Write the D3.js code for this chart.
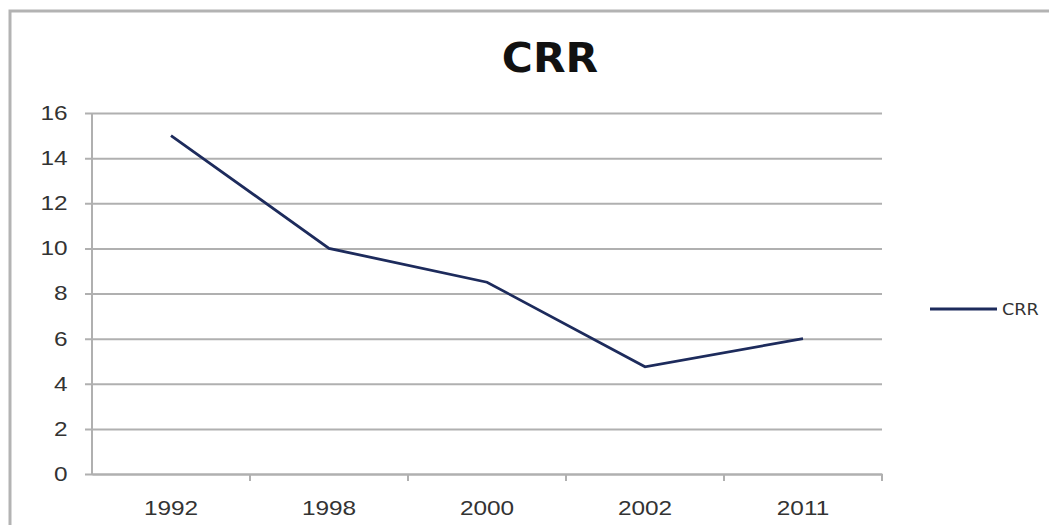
<!DOCTYPE html>
<html>
<head>
<meta charset="utf-8">
<script src="https://cdn.jsdelivr.net/npm/d3@7"></script>
<style>
  body { margin: 0; background: #fff; }
  svg { display: block; font-family: "DejaVu Sans", Verdana, sans-serif; }
</style>
</head>
<body>
<div id="chart"></div>
<script>
// data
const years = ["1992", "1998", "2000", "2002", "2011"];
const crr = [15, 10, 8.5, 4.75, 6];
const yTicks = [0, 2, 4, 6, 8, 10, 12, 14, 16];

const W = 1049, H = 525;
const margin = {top: 113, right: 167, bottom: 51, left: 92};
const width = W - margin.left - margin.right,
      height = H - margin.top - margin.bottom;
const stretch = "scale(1.22,1)"; // the source image is wide-stretched

const svg = d3.select("#chart").append("svg")
    .attr("width", W)
    .attr("height", H);

// outer chart border
svg.append("rect")
    .attr("x", 10).attr("y", 11)
    .attr("width", 1100).attr("height", 600)
    .attr("fill", "none")
    .attr("stroke", "#b3b3b3")
    .attr("stroke-width", 3);

svg.append("text")
    .attr("transform", "translate(550,72) scale(1.06,1)")
    .attr("text-anchor", "middle")
    .attr("font-size", 40)
    .attr("font-weight", "bold")
    .attr("fill", "#111")
    .text("CRR");

const g = svg.append("g")
    .attr("transform", "translate(" + margin.left + "," + margin.top + ")");

const x = d3.scaleBand().domain(years).range([0, width]);
const y = d3.scaleLinear().domain([0, 16]).range([height, 0]);

// gridlines + y axis
const yAxis = g.append("g")
    .call(d3.axisLeft(y).tickValues(yTicks).tickSize(-width).tickPadding(20));
yAxis.select(".domain").remove();
yAxis.selectAll(".tick line")
    .attr("x1", -7)
    .attr("stroke", "#b0b0b0")
    .attr("stroke-width", 2);
yAxis.selectAll("text")
    .attr("font-size", 20)
    .attr("fill", "#333")
    .attr("transform", stretch);

g.append("line")
    .attr("x1", 0).attr("x2", 0)
    .attr("y1", 0).attr("y2", height)
    .attr("stroke", "#b0b0b0")
    .attr("stroke-width", 2);

// x axis with ticks at category boundaries
const xAxis = g.append("g")
    .attr("transform", "translate(0," + height + ")")
    .call(d3.axisBottom(x).tickSize(0).tickPadding(27));
xAxis.select(".domain")
    .attr("stroke", "#b0b0b0")
    .attr("stroke-width", 2);
xAxis.selectAll("text")
    .attr("font-size", 20)
    .attr("fill", "#333")
    .attr("transform", stretch);
xAxis.selectAll(".bound")
    .data(years)
    .enter().append("line")
    .attr("x1", d => x(d) + x.bandwidth())
    .attr("x2", d => x(d) + x.bandwidth())
    .attr("y1", 0).attr("y2", 7)
    .attr("stroke", "#b0b0b0")
    .attr("stroke-width", 2);

// series line
const pts = years.map((yr, i) => ({yr: yr, v: crr[i]}));
g.append("path")
    .datum(pts)
    .attr("fill", "none")
    .attr("stroke", "#1d2b5c")
    .attr("stroke-width", 2.8)
    .attr("d", d3.line()
        .x(d => x(d.yr) + x.bandwidth() / 2)
        .y(d => y(d.v)));

// legend
const lg = svg.append("g").attr("transform", "translate(930,309)");
lg.append("line")
    .attr("x1", 0).attr("x2", 67)
    .attr("stroke", "#1d2b5c")
    .attr("stroke-width", 3);
lg.append("text")
    .attr("transform", "translate(72,6) scale(1.1,1)")
    .attr("font-size", 16)
    .attr("fill", "#333")
    .text("CRR");
</script>
</body>
</html>
